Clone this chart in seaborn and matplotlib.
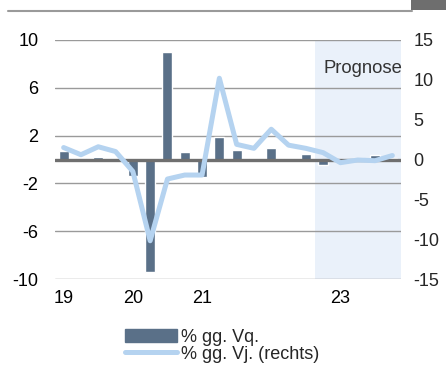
import matplotlib
matplotlib.use("Agg")
import matplotlib.pyplot as plt
import seaborn as sns
import pandas as pd
import numpy as np
from matplotlib.patches import Rectangle
from matplotlib.lines import Line2D

# ---- data ----
quarters = ["19Q1", "19Q2", "19Q3", "19Q4", "20Q1", "20Q2", "20Q3", "20Q4",
            "21Q1", "21Q2", "21Q3", "21Q4", "22Q1", "22Q2", "22Q3", "22Q4",
            "23Q1", "23Q2", "23Q3", "23Q4"]
qoq = [0.7, 0.1, 0.2, 0.1, -1.4, -9.45, 9.0, 0.6, -1.45, 1.9, 0.8, 0.1,
       1.0, 0.1, 0.45, -0.5, 0.05, 0.1, 0.35, 0.1]
yoy = [1.5, 0.6, 1.6, 1.0, -1.5, -10.2, -2.45, -1.95, -1.95, 10.2, 1.9, 1.4,
       3.8, 1.8, 1.4, 0.86, -0.4, -0.06, -0.15, 0.5]
tick_pos = [0, 4, 8, 16]
tick_labels = ["19", "20", "21", "23"]
left_ticks = [10, 6, 2, -2, -6, -10]
right_ticks = [15, 10, 5, 0, -5, -10, -15]
forecast_start = 15

df = pd.DataFrame({"q": quarters, "qoq": qoq, "yoy": yoy, "idx": np.arange(len(quarters))})

sns.set_style("white")
plt.rcParams["font.family"] = ["Liberation Sans", "DejaVu Sans"]

FS = 13

fig = plt.figure(figsize=(4.46, 3.65), dpi=100)
ax = fig.add_axes([55/446, 1-279/365, 346/446, 239/365])

bar_col = "#5a7088"
line_col = "#b5d3f0"

ax.axvspan(forecast_start - 0.5, len(quarters) - 0.5, color="#eaf1fa", zorder=0, lw=0)
for t in left_ticks:
    ax.axhline(t, color="#9a9a9a", lw=1.0, zorder=1)

sns.barplot(data=df, x="q", y="qoq", order=quarters, color=bar_col, width=0.58,
            saturation=1, ax=ax, zorder=2)
ax.axhline(0, color="#6f6f6f", lw=2.4, zorder=3)

ax.set_xlim(-0.5, len(quarters) - 0.5)
ax.set_ylim(-10, 10)
ax.set_yticks(left_ticks)
ax.set_yticklabels([str(t) for t in left_ticks])
ax.set_xticks(tick_pos)
ax.set_xticklabels(tick_labels)
ax.set_xlabel("")
ax.set_ylabel("")
ax.tick_params(axis="both", length=0, labelsize=FS, colors="#000000")
ax.tick_params(axis="y", pad=12)
ax.tick_params(axis="x", pad=8)
for s in ax.spines.values():
    s.set_visible(False)

ax2 = ax.twinx()
sns.lineplot(data=df, x="idx", y="yoy", color=line_col, lw=3.6, ax=ax2, zorder=4)
ax2.set_ylim(-15, 15)
ax2.set_yticks(right_ticks)
ax2.set_yticklabels([str(t) for t in right_ticks])
ax2.set_xlim(-0.5, len(quarters) - 0.5)
ax2.set_ylabel("")
ax2.set_xlabel("")
ax2.tick_params(axis="y", length=0, labelsize=FS, pad=9)
for s in ax2.spines.values():
    s.set_visible(False)

ax.text(len(quarters) - 0.4, 7.6, "Prognose", ha="right", va="center",
        fontsize=13.3, color="#333333", zorder=5)

# top decorations
fig.add_artist(Line2D([8/446, 412/446], [1-10.5/365, 1-10.5/365],
                      color="#9a9a9a", lw=1.5, transform=fig.transFigure))
fig.add_artist(Rectangle((411/446, 1-10/365), 35/446, 10/365, color="#6e6e6e",
                         transform=fig.transFigure, lw=0))

handles = [Rectangle((0, 0), 1, 1, color=bar_col),
           Line2D([0], [0], color=line_col, lw=3.6, solid_capstyle="round")]
fig.legend(handles, ["% gg. Vq.", "% gg. Vj. (rechts)"],
           loc="upper left", bbox_to_anchor=(112/446, 1-316/365), frameon=False,
           fontsize=FS, handlelength=2.9, handletextpad=0.2, labelspacing=0.0,
           borderpad=0.2)

fig.savefig("out.png", dpi=100)
